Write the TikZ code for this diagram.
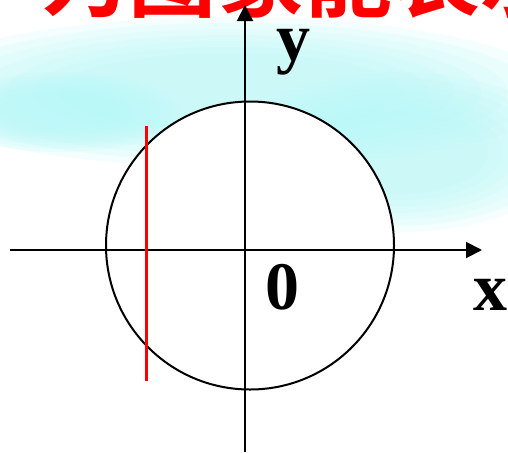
\documentclass[tikz,border=0pt]{standalone}
\usepackage{fontspec}
\newfontfamily\lblfont{Liberation Serif}
\newfontfamily\cjk{Noto Sans CJK SC Bold}
\usepackage{xcolor}
\definecolor{skycyan}{HTML}{B4F8F8}
\definecolor{titlered}{HTML}{FF0000}
\usepackage{tikz}
\usetikzlibrary{positioning,arrows.meta}

\tikzset{
  axisline/.style={line width=1pt, -{Triangle[length=8pt,width=8pt]}},
  axlabel/.style={font=\lblfont\bfseries\fontsize{34}{34}\selectfont, inner sep=0pt, anchor=base},
  cloud/.style={fill=skycyan, opacity=0.14},
}

\begin{document}
\begin{tikzpicture}[x=0.5pt, y=0.5pt]
  \useasboundingbox (0,0) rectangle (508,452);
  \clip (0,0) rectangle (508,452);
  \fill[white] (0,0) rectangle (508,452);
  % sky
  \foreach \s in {1.0,0.92,...,0.5} {
    \fill[cloud] (230,360) ellipse ({330*\s} and {75*\s});
    \fill[cloud] (400,300) ellipse ({170*\s} and {80*\s});
    \fill[cloud] (60,340) ellipse ({120*\s} and {40*\s});
  }
  \node[anchor=base west, inner sep=0pt, text=titlered,
    font=\cjk\fontsize{44}{44}\selectfont] (title) at (40,442) {为图象能表示};

  \draw[line width=1pt, fill=white] (250,206.5) circle (144);
  \coordinate (xstart) at (10,202);
  \coordinate (xend) at (482,202);
  \coordinate (ystart) at (245,0);
  \coordinate (yend) at (245,447);
  \draw[axisline] (xstart) -- (xend);
  \draw[axisline] (ystart) -- (yend);
  \coordinate (vtop) at (146,326);
  \coordinate (vbot) at (146,71);
  \draw[titlered, line width=1.5pt] (vtop) -- (vbot);
  \node[axlabel] (ylabel) at (293,392) {y};
  \node[axlabel] (olabel) at (282,143) {0};
  \node[axlabel] (xlabel) at (490,142) {x};
\end{tikzpicture}
\end{document}
